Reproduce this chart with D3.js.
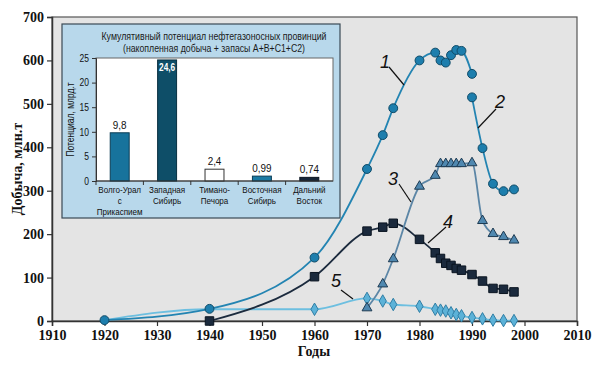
<!DOCTYPE html>
<html>
<head>
<meta charset="utf-8">
<script src="https://cdn.jsdelivr.net/npm/d3@7"></script>
<style>
  body { margin: 0; background: #fff; }
  svg { display: block; }
</style>
</head>
<body>
<div id="chart"></div>
<script>
// Main chart data: [year, production, mln t]
const series1 = [[1920, 2], [1940, 28], [1960, 146], [1970, 350], [1973, 428], [1975, 490],
    [1980, 600], [1983, 618], [1984, 600], [1985, 595], [1986, 612], [1987, 624], [1988, 622], [1990, 569]];
const series2 = [[1990, 515], [1992, 398], [1994, 316], [1996, 299], [1998, 303]];
const series3 = [[1970, 30], [1973, 85], [1975, 143], [1980, 310], [1983, 335], [1984, 362], [1985, 362],
    [1986, 362], [1987, 362], [1988, 362], [1990, 364], [1992, 231], [1994, 201], [1996, 194], [1998, 186]];
const series4 = [[1940, 0], [1960, 102], [1970, 207], [1973, 216], [1975, 225], [1980, 188], [1983, 157],
    [1984, 144], [1985, 133], [1986, 128], [1987, 121], [1988, 117], [1990, 107], [1992, 92], [1994, 75],
    [1996, 73], [1998, 67]];
const series5 = [[1920, 2], [1940, 27], [1960, 27], [1970, 52], [1973, 46], [1975, 38], [1980, 34],
    [1983, 27], [1984, 25], [1985, 23], [1986, 19], [1987, 15], [1988, 12], [1990, 8], [1992, 5],
    [1994, 2], [1996, 1], [1998, 1]];

const xTicks = [1910, 1920, 1930, 1940, 1950, 1960, 1970, 1980, 1990, 2000, 2010];
const yTicks = [0, 100, 200, 300, 400, 500, 600, 700];

// Inset data
const regions = [["Волго-Урал", "с", "Прикаспием"], ["Западная", "Сибирь"], ["Тимано-", "Печора"],
    ["Восточная", "Сибирь"], ["Дальний", "Восток"]];
const potentials = [9.8, 24.6, 2.4, 0.99, 0.74];
const potentialLabels = ["9,8", "24,6", "2,4", "0,99", "0,74"];
const insetTicks = [0, 5, 10, 15, 20, 25];

const width = 600, height = 367;
const serif = "'Liberation Serif', 'Times New Roman', serif";
const sans = "'Liberation Sans', Arial, sans-serif";
const squeeze = 0.85; // fake a narrow face

const svg = d3.select("#chart").append("svg")
    .attr("width", width)
    .attr("height", height);

const x = d3.scaleLinear().domain([1910, 2010]).range([52, 577]);
const y = d3.scaleLinear().domain([0, 700]).range([321, 17]);

// plot background
svg.append("rect")
    .attr("x", x(1910)).attr("y", y(700))
    .attr("width", x(2010) - x(1910)).attr("height", y(0) - y(700))
    .attr("fill", "#e4e4e4")
    .attr("stroke", "#555").attr("stroke-width", 1.2);

// axes
const xAxis = svg.append("g")
    .attr("transform", `translate(0,${y(0)})`)
    .call(d3.axisBottom(x).tickValues(xTicks).tickFormat(d3.format("d")).tickSize(5).tickPadding(4));
const yAxis = svg.append("g")
    .attr("transform", `translate(${x(1910)},0)`)
    .call(d3.axisLeft(y).tickValues(yTicks).tickSize(5).tickPadding(3));

[xAxis, yAxis].forEach(a => {
    a.attr("font-family", null).attr("font-size", null);
    a.select(".domain").attr("stroke", "#333").attr("stroke-width", 1.5);
    a.selectAll(".tick line").attr("stroke", "#333").attr("stroke-width", 1.2);
    a.selectAll(".tick text")
        .style("font-family", serif).style("font-weight", "bold")
        .style("font-size", "14px").attr("fill", "#111");
});

svg.append("text")
    .attr("transform", `translate(22,${y(350)}) rotate(-90)`)
    .attr("text-anchor", "middle")
    .style("font-family", serif).style("font-weight", "bold").style("font-size", "14px")
    .attr("fill", "#111")
    .text("Добыча, млн.т");

svg.append("text")
    .attr("x", 314).attr("y", 356)
    .attr("text-anchor", "middle")
    .style("font-family", serif).style("font-weight", "bold").style("font-size", "14px")
    .attr("fill", "#111")
    .text("Годы");

// lines
const line = d3.line()
    .x(d => x(d[0]))
    .y(d => y(d[1]))
    .curve(d3.curveMonotoneX);

const seriesDefs = [
    { data: series5, color: "#6dbfe0", symbol: d3.symbolDiamond, size: 45, fill: "#5cb2d8", stroke: "#2f7ea5", from: 1960 },
    { data: series4, color: "#1c2b3e", symbol: d3.symbolSquare, size: 72, fill: "#1b2a3d", stroke: "#0a1420", from: 1900 },
    { data: series3, color: "#5c86a6", symbol: d3.symbolTriangle, size: 42, fill: "#4f88b0", stroke: "#1d3a52", from: 1900 },
    { data: series1, color: "#2384b2", symbol: d3.symbolCircle, size: 62, fill: "#1d7ead", stroke: "#0f4b68", from: 1900 },
    { data: series2, color: "#2384b2", symbol: d3.symbolCircle, size: 62, fill: "#1d7ead", stroke: "#0f4b68", from: 1900 }
];

seriesDefs.forEach(s => {
    svg.append("path")
        .datum(s.data)
        .attr("fill", "none")
        .attr("stroke", s.color)
        .attr("stroke-width", 1.8)
        .attr("d", line);
});

seriesDefs.forEach(s => {
    svg.append("g").selectAll("path")
        .data(s.data.filter(d => d[0] >= s.from))
        .join("path")
        .attr("transform", d => `translate(${x(d[0])},${y(d[1])})`)
        .attr("d", d3.symbol().type(s.symbol).size(s.size))
        .attr("fill", s.fill)
        .attr("stroke", s.stroke)
        .attr("stroke-width", 1);
});

// callout numbers
const callouts = [
    { label: "1", tx: 385, ty: 68, x1: 389, y1: 67, x2: 404, y2: 85 },
    { label: "2", tx: 500, ty: 108, x1: 496, y1: 109, x2: 478, y2: 128 },
    { label: "3", tx: 393, ty: 185, x1: 399, y1: 184, x2: 411, y2: 202 },
    { label: "4", tx: 448, ty: 228, x1: 446, y1: 227, x2: 428, y2: 243 },
    { label: "5", tx: 336, ty: 287, x1: 341, y1: 290, x2: 353, y2: 299 }
];
const co = svg.append("g");
co.selectAll("line").data(callouts).join("line")
    .attr("x1", d => d.x1).attr("y1", d => d.y1)
    .attr("x2", d => d.x2).attr("y2", d => d.y2)
    .attr("stroke", "#111").attr("stroke-width", 1.2);
co.selectAll("text").data(callouts).join("text")
    .attr("x", d => d.tx).attr("y", d => d.ty)
    .attr("text-anchor", "middle")
    .attr("font-family", sans).attr("font-style", "italic").attr("font-size", 18)
    .attr("fill", "#111")
    .text(d => d.label);

// ---- Inset bar chart ----
const inset = svg.append("g");
inset.append("rect")
    .attr("x", 62).attr("y", 24).attr("width", 278).attr("height", 194)
    .attr("fill", "#b8d8eb")
    .attr("stroke", "#3a4a55").attr("stroke-width", 1.2);

inset.append("text")
    .attr("x", 214).attr("y", 40)
    .attr("text-anchor", "middle")
    .attr("font-family", sans).attr("font-size", 10.5).attr("fill", "#1a1a1a")
    .attr("textLength", 225).attr("lengthAdjust", "spacingAndGlyphs")
    .text("Кумулятивный потенциал нефтегазоносных провинций");
inset.append("text")
    .attr("x", 214).attr("y", 52)
    .attr("text-anchor", "middle")
    .attr("font-family", sans).attr("font-size", 10.5).attr("fill", "#1a1a1a")
    .attr("textLength", 182).attr("lengthAdjust", "spacingAndGlyphs")
    .text("(накопленная добыча + запасы A+B+C1+C2)");

const xb = d3.scaleBand()
    .domain(d3.range(regions.length))
    .range([96, 333])
    .paddingInner(0.6)
    .paddingOuter(0.3);
const yb = d3.scaleLinear().domain([0, 25]).range([181, 58]);

inset.append("rect")
    .attr("x", 96).attr("y", yb(25))
    .attr("width", 333 - 96).attr("height", yb(0) - yb(25))
    .attr("fill", "#fff")
    .attr("stroke", "#666").attr("stroke-width", 1);

const barFills = ["#17739c", "#0e4e68", "#ffffff", "#1b7aa3", "#172638"];
const barStrokes = ["#0c3d55", "#082f40", "#333333", "#0c3d55", "#0a1420"];

inset.selectAll(".bar")
    .data(potentials)
    .join("rect")
    .attr("class", "bar")
    .attr("x", (d, i) => xb(i))
    .attr("y", d => yb(d))
    .attr("width", xb.bandwidth())
    .attr("height", d => yb(0) - yb(d))
    .attr("fill", (d, i) => barFills[i])
    .attr("stroke", (d, i) => barStrokes[i])
    .attr("stroke-width", 1);

inset.selectAll(".bar-label")
    .data(potentials)
    .join("text")
    .attr("class", "bar-label")
    .attr("transform", (d, i) => {
        const cx = xb(i) + xb.bandwidth() / 2;
        const cy = d > 20 ? yb(d) + 11 : yb(d) - 4;
        return `translate(${cx},${cy}) scale(${d > 20 ? 0.75 : 0.9},1)`;
    })
    .attr("text-anchor", "middle")
    .attr("font-family", sans).attr("font-size", 11)
    .attr("font-weight", d => d > 20 ? "bold" : "normal")
    .attr("fill", d => d > 20 ? "#fff" : "#111")
    .text((d, i) => potentialLabels[i]);

const yAxisB = inset.append("g")
    .attr("transform", "translate(96,0)")
    .call(d3.axisLeft(yb).tickValues(insetTicks).tickSize(4).tickPadding(2));
yAxisB.select(".domain").attr("stroke", "#333");
yAxisB.selectAll(".tick line").attr("stroke", "#333");
yAxisB.selectAll(".tick text")
    .attr("font-family", sans).attr("font-size", 10).attr("fill", "#111")
    .attr("transform", `scale(${squeeze},1)`)
    .attr("x", -7 / squeeze);

// category boundary ticks on inset x axis
inset.append("line")
    .attr("x1", 96).attr("x2", 333).attr("y1", yb(0)).attr("y2", yb(0))
    .attr("stroke", "#333").attr("stroke-width", 1.2);
inset.selectAll(".cat-tick")
    .data(d3.range(regions.length))
    .join("line")
    .attr("class", "cat-tick")
    .attr("x1", i => xb(i) - xb.step() * xb.paddingOuter())
    .attr("x2", i => xb(i) - xb.step() * xb.paddingOuter())
    .attr("y1", yb(0)).attr("y2", yb(0) + 4)
    .attr("stroke", "#333");

inset.selectAll(".cat-label")
    .data(regions)
    .join("text")
    .attr("class", "cat-label")
    .attr("transform", (d, i) => `translate(${xb(i) + xb.bandwidth() / 2},193) scale(${squeeze},1)`)
    .attr("text-anchor", "middle")
    .attr("font-family", sans).attr("font-size", 9.5).attr("fill", "#111")
    .selectAll("tspan")
    .data(d => d)
    .join("tspan")
    .attr("x", 0)
    .attr("dy", (d, i) => i === 0 ? 0 : 10.8)
    .text(d => d);

inset.append("text")
    .attr("transform", `translate(74,${yb(12.5)}) rotate(-90) scale(${squeeze},1)`)
    .attr("text-anchor", "middle")
    .attr("font-family", sans).attr("font-size", 10).attr("fill", "#111")
    .text("Потенциал, млрд.т");
</script>
</body>
</html>
